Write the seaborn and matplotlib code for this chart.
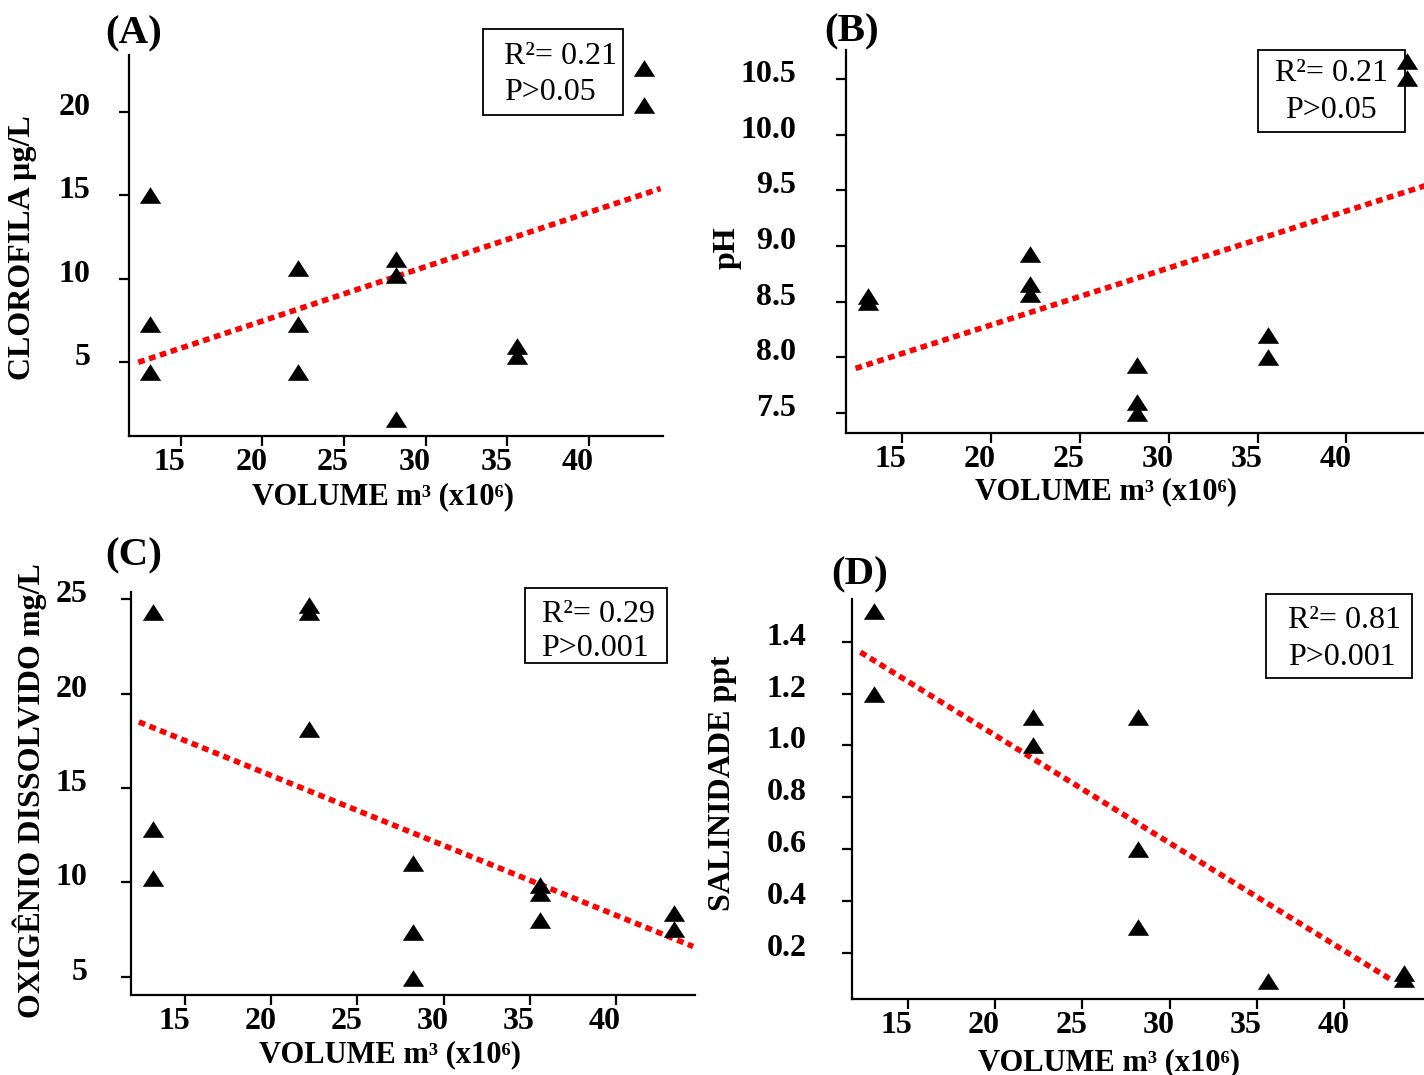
import matplotlib
matplotlib.use("Agg")
import matplotlib.pyplot as plt
import matplotlib.patches as mpatches
from matplotlib.markers import MarkerStyle
from matplotlib.transforms import ScaledTranslation
import seaborn as sns

# Reservoir volume (x10^6 m³) at each sampling and the measured variable
vol_clorofila = [13.1, 13.1, 13.1, 22.2, 22.2, 22.2, 28.2, 28.2, 28.2, 35.6, 35.6, 43.4, 43.4]
clorofila = [15.0, 7.3, 4.4, 10.65, 7.3, 4.4, 11.2, 10.25, 1.6, 5.95, 5.4, 22.6, 20.4]

vol_ph = [13.1, 13.1, 22.2, 22.2, 22.2, 28.2, 28.2, 28.2, 35.6, 35.6, 43.4, 43.4]
ph = [8.55, 8.5, 8.93, 8.66, 8.57, 7.93, 7.6, 7.5, 8.2, 8.0, 10.66, 10.51]

vol_oxigenio = [13.1, 13.1, 13.1, 22.2, 22.2, 22.2, 28.2, 28.2, 28.2, 35.6, 35.6, 35.6, 43.4, 43.4]
oxigenio = [24.3, 12.8, 10.25, 24.7, 24.3, 18.1, 11.0, 7.35, 4.95, 9.85, 9.45, 8.0, 8.4, 7.55]

vol_salinidade = [13.1, 13.1, 22.2, 22.2, 28.2, 28.2, 28.2, 35.6, 43.4, 43.4]
salinidade = [1.52, 1.2, 1.11, 1.0, 1.11, 0.6, 0.3, 0.09, 0.12, 0.10]

# Linear trend lines (start and end points)
fit_vol_clorofila = [12.4, 44.4]
fit_clorofila = [5.0, 15.4]
fit_vol_ph = [12.4, 44.4]
fit_ph = [7.9, 9.54]
fit_vol_oxigenio = [12.3, 44.5]
fit_oxigenio = [18.5, 6.6]
fit_vol_salinidade = [12.3, 42.8]
fit_salinidade = [1.36, 0.09]

# Regression statistics
stats_clorofila = ["R²= 0.21", "P>0.05"]
stats_ph = ["R²= 0.21", "P>0.05"]
stats_oxigenio = ["R²= 0.29", "P>0.001"]
stats_salinidade = ["R²= 0.81", "P>0.001"]

xticks = [15, 20, 25, 30, 35, 40]
xlabel = "VOLUME m³ (x10⁶)"

sns.set_style("ticks")
plt.rcParams["font.family"] = ["Liberation Serif", "DejaVu Serif"]
plt.rcParams["font.weight"] = "bold"
plt.rcParams["axes.linewidth"] = 1.6
plt.rcParams["text.color"] = "black"
plt.rcParams["axes.labelcolor"] = "black"
plt.rcParams["xtick.color"] = "black"
plt.rcParams["ytick.color"] = "black"
plt.rcParams["axes.edgecolor"] = "black"

W, H = 1424, 1075
fig = plt.figure(figsize=(W / 100, H / 100), dpi=100)
fig.patch.set_facecolor("white")


def fx(px):
    return px / W


def fy(py):
    return 1 - py / H


triangle = MarkerStyle([(0, 0.78), (-1, -0.78), (1, -0.78), (0, 0.78)])

panels = [
    dict(letter="(A)", x=vol_clorofila, y=clorofila,
         fx=fit_vol_clorofila, fy=fit_clorofila, stats=stats_clorofila,
         rect=(129.3, 55, 663, 436), xlim=(11.85, 44.55), ylim=(0.59, 23.39),
         yticks=[5, 10, 15, 20], yfmt="{:.0f}", ypad=21,
         ylabel="CLOROFILA µg/L", ylabel_xy=(23, 247.5), xlabel_xy=(383, 496.5),
         letter_xy=(105.7, 43), box=(482.7, 29.3, 623.3, 115),
         text_x=504, baselines=(64, 100), align="left"),
    dict(letter="(B)", x=vol_ph, y=ph,
         fx=fit_vol_ph, fy=fit_ph, stats=stats_ph,
         rect=(846, 50, 1424, 433), xlim=(11.86, 44.36), ylim=(7.32, 10.76),
         yticks=[7.5, 8.0, 8.5, 9.0, 9.5, 10.0, 10.5], yfmt="{:.1f}", ypad=29,
         ylabel="pH", ylabel_xy=(727, 248), xlabel_xy=(1106, 492),
         letter_xy=(824.7, 41), box=(1257.7, 50, 1405, 131.7),
         text_x=1331, baselines=(81, 118), align="center"),
    dict(letter="(C)", x=vol_oxigenio, y=oxigenio,
         fx=fit_vol_oxigenio, fy=fit_oxigenio, stats=stats_oxigenio,
         rect=(131, 591.7, 695, 995), xlim=(11.84, 44.61), ylim=(4.03, 25.4),
         yticks=[5, 10, 15, 20, 25], yfmt="{:.0f}", ypad=24.5,
         ylabel="OXIGÊNIO DISSOLVIDO mg/L", ylabel_xy=(30, 791), xlabel_xy=(390, 1055),
         letter_xy=(105.7, 565), box=(525, 588.3, 666.7, 663.3),
         text_x=541.5, baselines=(621.7, 656), align="left"),
    dict(letter="(D)", x=vol_salinidade, y=salinidade,
         fx=fit_vol_salinidade, fy=fit_salinidade, stats=stats_salinidade,
         rect=(851.7, 599.3, 1424, 999), xlim=(11.8, 44.55), ylim=(0.021, 1.564),
         yticks=[0.2, 0.4, 0.6, 0.8, 1.0, 1.2, 1.4], yfmt="{:.1f}", ypad=25.5,
         ylabel="SALINIDADE ppt", ylabel_xy=(722, 783), xlabel_xy=(1109, 1063),
         letter_xy=(831.7, 584), box=(1266.4, 593.8, 1411.7, 677.8),
         text_x=1287.6, baselines=(628, 665), align="left"),
]

shift_x = ScaledTranslation(-11 / 100, 0, fig.dpi_scale_trans)
shift_y = ScaledTranslation(0, 8 / 100, fig.dpi_scale_trans)

for p in panels:
    l, t, r, b = p["rect"]
    ax = fig.add_axes([fx(l), fy(b), (r - l) / W, (b - t) / H])

    sns.lineplot(x=p["fx"], y=p["fy"], ax=ax, color="#ff0000", linewidth=4.0,
                 linestyle=(0, (1.2, 0.85)), solid_capstyle="butt",
                 dash_capstyle="butt", zorder=2)
    sns.scatterplot(x=p["x"], y=p["y"], ax=ax, marker=triangle, s=235,
                    color="black", edgecolor="black", linewidth=0,
                    clip_on=False, zorder=3)

    ax.set_xlim(*p["xlim"])
    ax.set_ylim(*p["ylim"])
    ax.set_xticks(xticks)
    ax.set_xticklabels([str(v) for v in xticks])
    ax.set_yticks(p["yticks"])
    ax.set_yticklabels([p["yfmt"].format(v) for v in p["yticks"]])
    sns.despine(ax=ax)
    for side in ("left", "bottom"):
        ax.spines[side].set_linewidth(1.6)
        ax.spines[side].set_color("black")

    ax.tick_params(axis="x", length=7, width=1.6, pad=1.5, labelsize=23,
                   color="black", labelcolor="black")
    ax.tick_params(axis="y", length=7, width=1.6, pad=p["ypad"], labelsize=23,
                   color="black", labelcolor="black")
    for tk in ax.xaxis.get_major_ticks():
        tk.label1.set_transform(tk.label1.get_transform() + shift_x)
    for tk in ax.yaxis.get_major_ticks():
        tk.label1.set_transform(tk.label1.get_transform() + shift_y)

    ax.set_xlabel(xlabel, fontsize=22, fontweight="bold", va="center",
                  ha="center", color="black")
    ax.xaxis.set_label_coords(fx(p["xlabel_xy"][0]), fy(p["xlabel_xy"][1]),
                              transform=fig.transFigure)
    ax.set_ylabel(p["ylabel"], fontsize=23, fontweight="bold", va="center",
                  ha="center", color="black")
    ax.yaxis.set_label_coords(fx(p["ylabel_xy"][0]), fy(p["ylabel_xy"][1]),
                              transform=fig.transFigure)

    fig.text(fx(p["letter_xy"][0]), fy(p["letter_xy"][1]), p["letter"],
             fontsize=29.5, fontweight="bold", ha="left", va="baseline",
             color="black")

    bx0, by0, bx1, by1 = p["box"]
    fig.add_artist(mpatches.Rectangle((fx(bx0), fy(by1)), (bx1 - bx0) / W,
                                      (by1 - by0) / H, transform=fig.transFigure,
                                      fill=False, edgecolor="black", linewidth=1.3))
    for line, base in zip(p["stats"], p["baselines"]):
        fig.text(fx(p["text_x"]), fy(base), line, fontsize=23,
                 fontweight="normal", ha=p["align"], va="baseline",
                 color="black")

fig.savefig("out.png", dpi=100, facecolor="white")
